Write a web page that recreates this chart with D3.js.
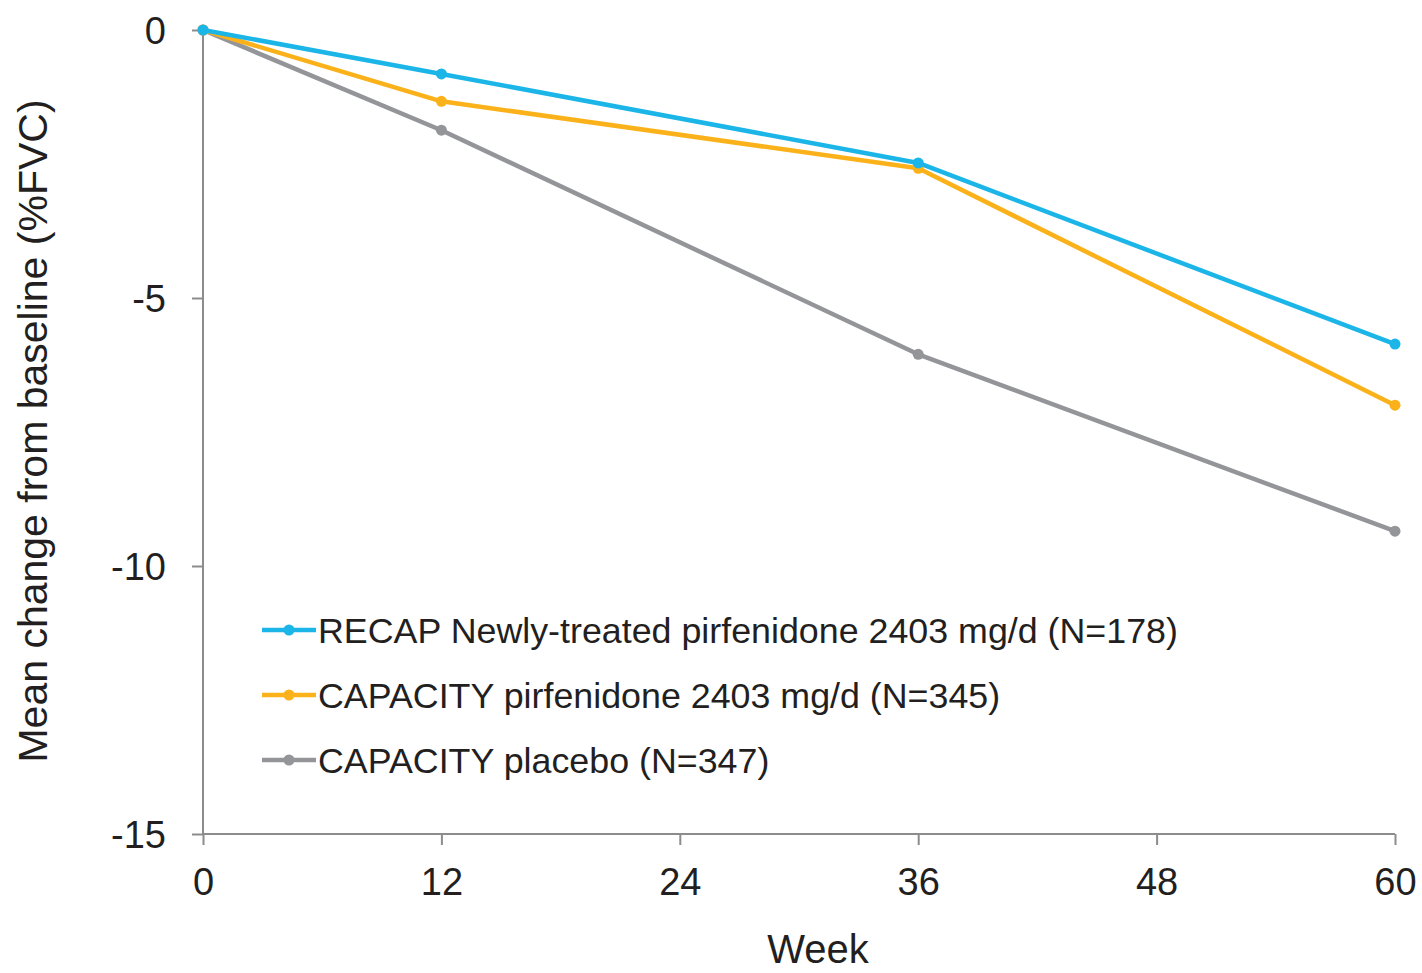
<!DOCTYPE html>
<html><head><meta charset="utf-8">
<script src="https://cdn.jsdelivr.net/npm/d3@7"></script>
<style>body{margin:0;background:#fff;} text{font-family:"Liberation Sans",Arial,sans-serif;fill:#231f20;}</style>
</head><body>
<svg id="c" width="1422" height="973"></svg>
<script>
const weeks = [0, 12, 36, 60];
const seriesNames = [
  "RECAP Newly-treated pirfenidone 2403 mg/d (N=178)",
  "CAPACITY pirfenidone 2403 mg/d (N=345)",
  "CAPACITY placebo (N=347)"
];
const recapValues = [0, -0.82, -2.48, -5.86];
const capacityPirfValues = [0, -1.33, -2.58, -7.0];
const placeboValues = [0, -1.87, -6.05, -9.35];
const colors = ["#1cb5e8", "#fbb21a", "#939598"];
const xTicks = [0, 12, 24, 36, 48, 60];
const yTicks = [0, -5, -10, -15];

const svg = d3.select("#c");
const x = d3.scaleLinear().domain([0, 60]).range([203, 1395]);
const y = d3.scaleLinear().domain([0, -15]).range([30, 834]);

const axisColor = "#8c8c8c";
const gy = svg.append("g").attr("transform", "translate(203,0)")
  .call(d3.axisLeft(y).tickValues(yTicks).tickSize(11).tickPadding(26).tickFormat(d => String(d)));
const gx = svg.append("g").attr("transform", "translate(0,834)")
  .call(d3.axisBottom(x).tickValues(xTicks).tickSize(11).tickPadding(23).tickFormat(d => String(d)));
[gx, gy].forEach(g => {
  g.select(".domain").attr("stroke", axisColor).attr("stroke-width", 2);
  g.selectAll(".tick line").attr("stroke", axisColor).attr("stroke-width", 2);
  g.selectAll(".tick text").attr("font-size", 38).attr("fill", "#231f20")
    .style("font-family", "'Liberation Sans', Arial, sans-serif");
});
gy.selectAll(".tick text").attr("dy", "0.36em");
gy.select(".domain").attr("d", "M0,30V834");
gx.select(".domain").attr("d", "M203,0H1395");

const data = [recapValues, capacityPirfValues, placeboValues];
const line = d3.line().x((d, i) => x(weeks[i])).y(d => y(d));
[2, 1, 0].forEach(k => {
  svg.append("path").datum(data[k]).attr("d", line).attr("fill", "none")
    .attr("stroke", colors[k]).attr("stroke-width", 4.5).attr("stroke-linejoin", "round");
  svg.selectAll(null).data(data[k]).enter().append("circle")
    .attr("cx", (d, i) => x(weeks[i])).attr("cy", d => y(d)).attr("r", 5.5).attr("fill", colors[k]);
});

const legY = [630, 695, 760];
seriesNames.forEach((n, k) => {
  const g = svg.append("g");
  g.append("line").attr("x1", 262).attr("x2", 316).attr("y1", legY[k]).attr("y2", legY[k])
    .attr("stroke", colors[k]).attr("stroke-width", 4.5);
  g.append("circle").attr("cx", 289).attr("cy", legY[k]).attr("r", 5.5).attr("fill", colors[k]);
  g.append("text").attr("x", 318).attr("y", legY[k]).attr("dy", "0.36em").attr("font-size", 35.8).text(n);
});

svg.append("text").attr("x", 818).attr("y", 963).attr("text-anchor", "middle").attr("font-size", 40).text("Week");
svg.append("text").attr("transform", "translate(47,431) rotate(-90)").attr("text-anchor", "middle")
  .attr("font-size", 41).text("Mean change from baseline (%FVC)");
</script>
</body></html>
